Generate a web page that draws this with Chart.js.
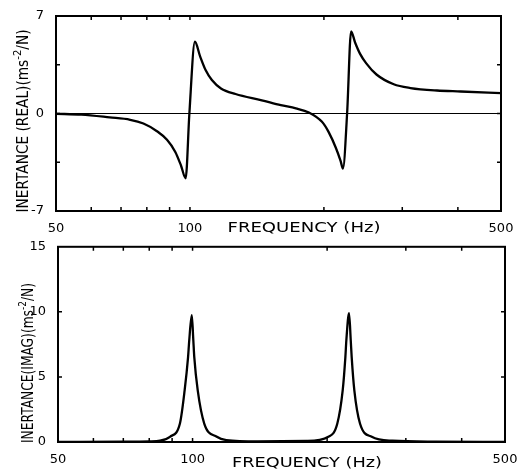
<!DOCTYPE html>
<html><head><meta charset="utf-8">
<script src="https://cdn.jsdelivr.net/npm/chart.js@4"></script>
<style>
html,body{margin:0;padding:0;background:#fff;width:529px;height:473px;overflow:hidden}
#w1{position:absolute;left:0;top:0;width:529px;height:240px}
#w2{position:absolute;left:0;top:235px;width:529px;height:238px}
</style></head><body>
<div id="w1"><canvas id="c1"></canvas></div>
<div id="w2"><canvas id="c2"></canvas></div>
<script>
// ---- data ----
const freqReal = [50, 57, 66, 73.4, 78.6, 84.3, 88.8, 92.7, 95.5, 97.8, 99.7, 102.6, 105.4, 108.5, 112, 117.4, 126.6, 145, 160, 173, 185, 198, 205, 212.7, 218, 220.7, 225.5, 230.2, 235, 241, 249, 262.5, 287, 313, 359, 406, 500];
const realValues = [-0.02, -0.08, -0.28, -0.45, -0.72, -1.27, -1.89, -2.76, -3.75, -4.65, 0, 5.15, 4.1, 3.1, 2.4, 1.8, 1.4, 0.95, 0.6, 0.37, 0.07, -0.6, -1.34, -2.46, -3.4, -3.95, 0, 5.9, 5.1, 4.3, 3.6, 2.8, 2.1, 1.83, 1.65, 1.58, 1.46];
const freqImag = [50, 70, 80, 84.6, 89.0, 93.7, 96.0, 97.7, 98.3, 99.6, 100.4, 100.9, 102.7, 106.2, 113.3, 119, 140, 180, 201.3, 210.8, 216.7, 219.7, 220.8, 223.9, 225.9, 227, 230.1, 236.9, 251.7, 280, 350, 500];
const imagValues = [0, 0.02, 0.05, 0.1, 0.4, 1.42, 3.96, 6.5, 7.8, 9.75, 7.8, 6.5, 3.96, 1.42, 0.4, 0.15, 0.05, 0.08, 0.4, 1.42, 3.96, 6.5, 7.8, 9.9, 7.8, 6.5, 3.96, 1.42, 0.4, 0.1, 0.03, 0.01];
const zeroLineFreq = [50, 500];
const zeroLineValues = [0, 0];
const xTicks = [50, 60, 70, 80, 90, 100, 200, 300, 400, 500];
const xTickLabels = ['50', '100', '500'];
const realYTicks = [-7, -3.5, 0, 3.5, 7];
const realYLabels = ['-7', '0', '7'];
const imagYTicks = [0, 5, 10, 15];
const imagYLabels = ['0', '5', '10', '15'];

const pts = (xs, ys) => xs.map((x, i) => ({x, y: ys[i]}));

function drawPieces(ctx, pieces, cx, cy, target, rot) {
  ctx.save();
  ctx.translate(cx, cy);
  if (rot) ctx.rotate(-Math.PI / 2);
  let total = 0;
  for (const p of pieces) { ctx.font = p.font; p.w = ctx.measureText(p.t).width; total += p.w; }
  ctx.scale(target / total, 1);
  ctx.textBaseline = 'middle';
  ctx.textAlign = 'left';
  ctx.fillStyle = '#000';
  let x = -total / 2;
  for (const p of pieces) { ctx.font = p.font; ctx.fillText(p.t, x, p.dy || 0); x += p.w; }
  ctx.restore();
}

const framePlugin = {
  id: 'frame',
  afterDatasetsDraw(chart, args, o) {
    const {ctx, chartArea: a, scales: {x, y}} = chart;
    ctx.save();
    ctx.strokeStyle = '#000';
    ctx.lineWidth = 1.5;
    ctx.beginPath();
    for (const v of o.xTicks) {
      const px = x.getPixelForValue(v);
      if (px <= a.left + 1 || px >= a.right - 1) continue;
      ctx.moveTo(px, a.top); ctx.lineTo(px, a.top + 4);
      ctx.moveTo(px, a.bottom); ctx.lineTo(px, a.bottom - 4);
    }
    for (const v of o.yTicks) {
      const py = y.getPixelForValue(v);
      if (py <= a.top + 1 || py >= a.bottom - 1) continue;
      ctx.moveTo(a.left, py); ctx.lineTo(a.left + 4, py);
      ctx.moveTo(a.right, py); ctx.lineTo(a.right - 4, py);
    }
    ctx.stroke();
    ctx.lineWidth = 2;
    ctx.strokeRect(a.left, a.top, a.right - a.left, a.bottom - a.top);
    ctx.restore();
    const f = '15px "DejaVu Sans"', fs = '11px "DejaVu Sans"';
    drawPieces(ctx, [{t: o.yTitle, font: f}, {t: 'ms', font: f}, {t: '-2', font: fs, dy: -6}, {t: '/N)', font: f}],
      o.yTitleX, o.yTitleY, o.yTitleW, true);
    drawPieces(ctx, [{t: 'FREQUENCY (Hz)', font: '14px "DejaVu Sans"'}], o.xTitleX, o.xTitleY, o.xTitleW, false);
  }
};

function makeChart(id, series, yMin, yMax, yTicks, yLabels, pad, xH, yW, frameOpts, extra) {
  const datasets = [{
    data: pts(series[0], series[1]), showLine: true, borderColor: '#000', borderWidth: 2.3,
    pointRadius: 0, cubicInterpolationMode: 'monotone', fill: false
  }];
  if (extra) datasets.push({data: pts(extra[0], extra[1]), showLine: true, borderColor: '#000', borderWidth: 1, pointRadius: 0});
  return new Chart(document.getElementById(id), {
    type: 'scatter',
    data: {datasets},
    options: {
      responsive: true, maintainAspectRatio: false, animation: false,
      layout: {padding: pad},
      plugins: {legend: {display: false}, tooltip: {enabled: false}, frame: frameOpts},
      scales: {
        x: {
          type: 'logarithmic', min: 50, max: 500,
          afterBuildTicks: s => { s.ticks = xTicks.map(v => ({value: v})); },
          afterFit: s => { s.height = xH; },
          ticks: {autoSkip: false, maxRotation: 0, padding: 2, color: '#000',
            font: {family: 'DejaVu Sans', size: 13},
            callback: v => xTickLabels.includes(String(v)) ? String(v) : ''},
          grid: {display: false}, border: {display: false}
        },
        y: {
          min: yMin, max: yMax,
          afterBuildTicks: s => { s.ticks = yTicks.map(v => ({value: v})); },
          afterFit: s => { s.width = yW; },
          ticks: {autoSkip: false, padding: 4, color: '#000',
            font: {family: 'DejaVu Sans', size: 13},
            callback: v => yLabels.includes(String(v)) ? String(v) : ''},
          grid: {display: false}, border: {display: false}
        }
      }
    },
    plugins: [framePlugin]
  });
}

makeChart('c1', [freqReal, realValues], -7, 7, realYTicks, realYLabels,
  {top: 16, right: 28, bottom: 0, left: 0}, 29, 56,
  {xTicks, yTicks: realYTicks, yTitle: 'INERTANCE (REAL)(', yTitleX: 24, yTitleY: 121, yTitleW: 183,
   xTitleX: 304, xTitleY: 228, xTitleW: 153},
  [zeroLineFreq, zeroLineValues]);

makeChart('c2', [freqImag, imagValues], 0, 15, imagYTicks, imagYLabels,
  {top: 10, right: 24, bottom: 0, left: 0}, 31, 58,
  {xTicks, yTicks: imagYTicks, yTitle: 'INERTANCE(IMAG)(', yTitleX: 29, yTitleY: 128, yTitleW: 160,
   xTitleX: 307, xTitleY: 228, xTitleW: 150});
</script>
</body></html>
